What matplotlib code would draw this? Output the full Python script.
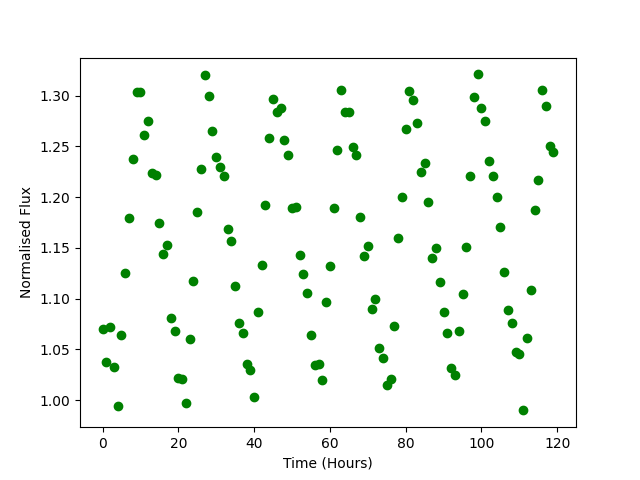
import matplotlib
matplotlib.use("Agg")
import matplotlib.pyplot as plt

# flux readings, one per hour
time_hours = list(range(120))
flux = [
    1.070, 1.038, 1.072, 1.033, 0.994, 1.064, 1.125, 1.180, 1.238, 1.304,
    1.304, 1.261, 1.275, 1.224, 1.222, 1.175, 1.144, 1.153, 1.081, 1.068,
    1.022, 1.021, 0.997, 1.060, 1.117, 1.185, 1.228, 1.320, 1.300, 1.265,
    1.240, 1.230, 1.221, 1.169, 1.157, 1.113, 1.076, 1.066, 1.036, 1.030,
    1.003, 1.087, 1.133, 1.192, 1.258, 1.297, 1.284, 1.288, 1.256, 1.242,
    1.189, 1.190, 1.143, 1.124, 1.106, 1.064, 1.035, 1.036, 1.020, 1.097,
    1.132, 1.189, 1.247, 1.306, 1.284, 1.284, 1.249, 1.242, 1.181, 1.142,
    1.152, 1.090, 1.100, 1.051, 1.042, 1.015, 1.021, 1.073, 1.160, 1.200,
    1.267, 1.305, 1.296, 1.273, 1.225, 1.234, 1.195, 1.140, 1.150, 1.116,
    1.087, 1.066, 1.032, 1.025, 1.068, 1.105, 1.151, 1.221, 1.299, 1.321,
    1.288, 1.275, 1.236, 1.221, 1.200, 1.171, 1.126, 1.089, 1.076, 1.048,
    1.046, 0.990, 1.061, 1.109, 1.187, 1.217, 1.306, 1.290, 1.250, 1.245,
]

fig = plt.figure(figsize=(6.4, 4.8), dpi=100)
plt.plot(time_hours, flux, 'o', color='green')
plt.xlabel('Time (Hours)')
plt.ylabel('Normalised Flux')
plt.savefig('out.png')
